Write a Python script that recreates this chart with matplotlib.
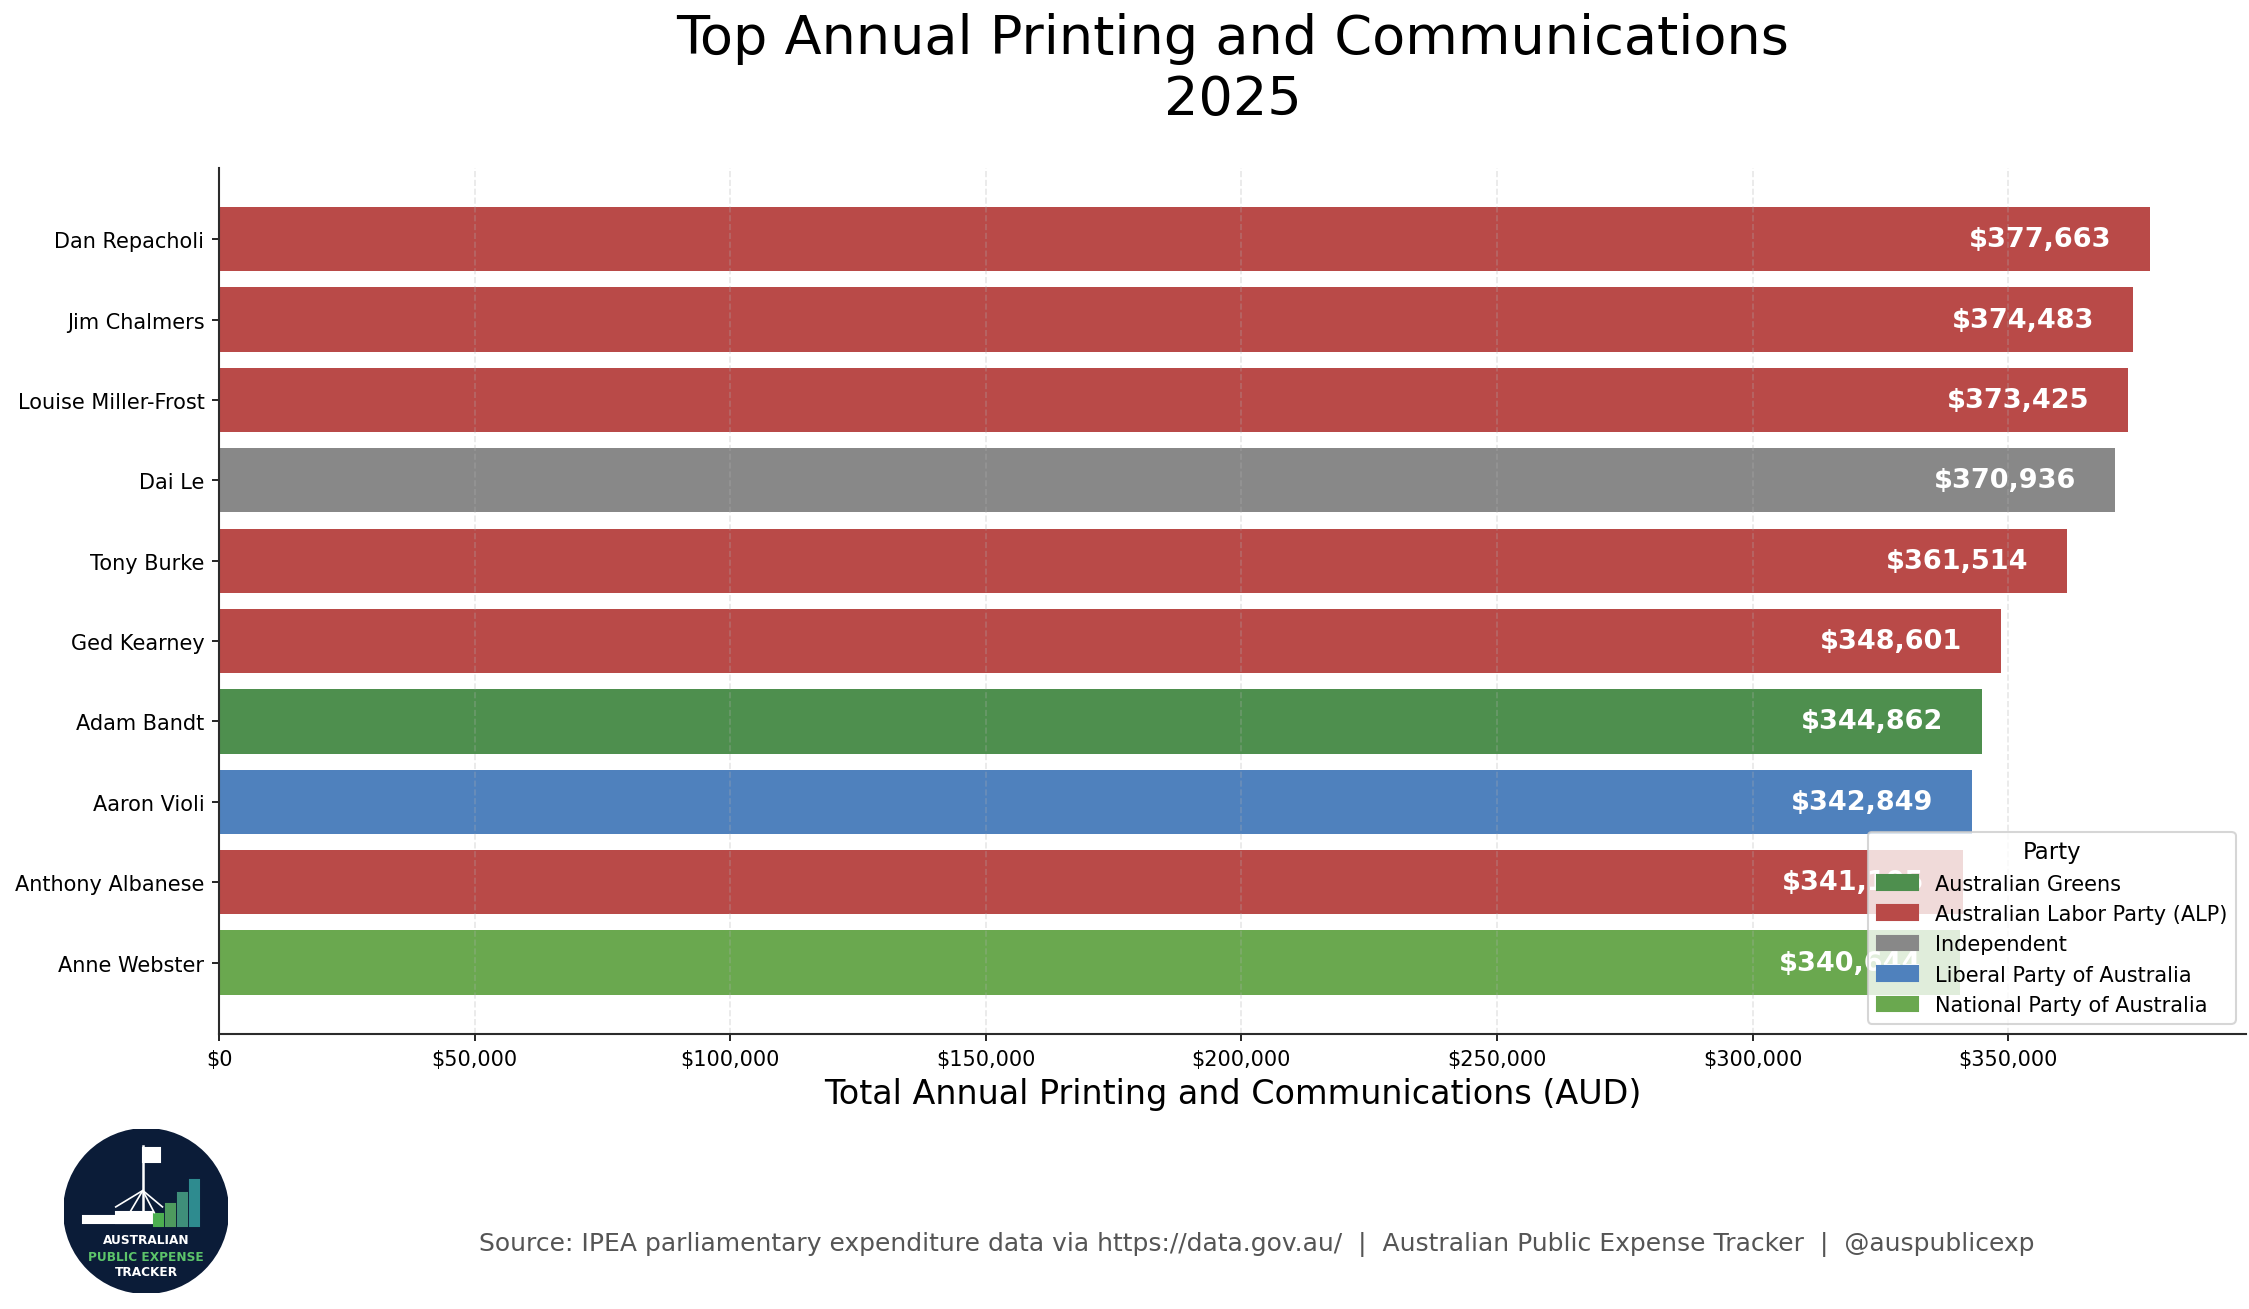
import matplotlib
matplotlib.use('Agg')
import matplotlib.pyplot as plt
from matplotlib.patches import Patch, Circle, Rectangle

# data
names = ["Dan Repacholi", "Jim Chalmers", "Louise Miller-Frost", "Dai Le", "Tony Burke",
         "Ged Kearney", "Adam Bandt", "Aaron Violi", "Anthony Albanese", "Anne Webster"]
values = [377663, 374483, 373425, 370936, 361514, 348601, 344862, 342849, 341105, 340644]
parties = ["Australian Labor Party (ALP)", "Australian Labor Party (ALP)", "Australian Labor Party (ALP)",
           "Independent", "Australian Labor Party (ALP)", "Australian Labor Party (ALP)",
           "Australian Greens", "Liberal Party of Australia", "Australian Labor Party (ALP)",
           "National Party of Australia"]
party_colors = {
    "Australian Greens": "#4e8f4e",
    "Australian Labor Party (ALP)": "#b94a48",
    "Independent": "#888888",
    "Liberal Party of Australia": "#4f81bd",
    "National Party of Australia": "#6aa84f",
}

fig = plt.figure(figsize=(2249 / 150, 1310 / 150), dpi=150)
ax = fig.add_axes([0.0974, 0.2099, 0.9013, 0.6613])

ypos = list(range(len(names)))
ax.barh(ypos, values, height=0.8, color=[party_colors[p] for p in parties])
ax.set_yticks(ypos)
ax.set_yticklabels(names, fontsize=10)
ax.invert_yaxis()

top = max(values)
for y, v in zip(ypos, values):
    ax.text(v - top * 0.02, y, f"${v:,.0f}", ha='right', va='center',
            color='white', fontsize=13, fontweight='bold')

ax.xaxis.set_major_formatter(matplotlib.ticker.FuncFormatter(lambda x, p: f"${x:,.0f}"))
ax.tick_params(axis='x', labelsize=10)
ax.grid(axis='x', linestyle='--', alpha=0.3)
ax.spines['top'].set_visible(False)
ax.spines['right'].set_visible(False)
for s in ['left', 'bottom']:
    ax.spines[s].set_color('#2b2b2b')
    ax.spines[s].set_linewidth(1.0)

ax.set_xlabel("Total Annual Printing and Communications (AUD)", fontsize=16)
ax.set_title("Top Annual Printing and Communications\n2025", fontsize=26, pad=26)

handles = [Patch(color=c, label=p) for p, c in party_colors.items()]
ax.legend(handles=handles, title="Party", loc='lower right', fontsize=10, title_fontsize=11)

fig.text(0.559, 0.050,
         "Source: IPEA parliamentary expenditure data via https://data.gov.au/  |  Australian Public Expense Tracker  |  @auspublicexp",
         ha='center', va='center', fontsize=12, color='#555555')

# logo
lax = fig.add_axes([0.0285, 0.0122, 0.0729, 0.1252])
lax.set_xlim(-1, 1)
lax.set_ylim(-1, 1)
lax.set_aspect('equal')
lax.axis('off')
lax.add_patch(Circle((0, 0), 1, color='#0b1c38'))
# parliament house
lax.add_patch(Rectangle((-0.77, -0.15), 0.85, 0.09, color='white'))
lax.add_patch(Rectangle((-0.37, -0.15), 0.45, 0.14, color='white'))
lax.plot([-0.04, -0.04], [-0.04, 0.79], color='white', lw=1.2)
lax.plot([-0.37, -0.04, 0.2], [0.05, 0.25, 0.05], color='white', lw=0.8)
lax.plot([-0.2, -0.04, 0.1], [-0.02, 0.25, -0.02], color='white', lw=0.8)
lax.add_patch(Rectangle((-0.04, 0.6), 0.21, 0.17, color='white'))
bar_h = [0.14, 0.27, 0.40, 0.56]
bar_c = ['#4caf50', '#4e9a5e', '#3f8f7a', '#2e8b8f']
for i, (h, c) in enumerate(zip(bar_h, bar_c)):
    lax.add_patch(Rectangle((0.10 + i * 0.145, -0.18), 0.11, h, color=c))
lax.text(0, -0.35, "AUSTRALIAN", ha='center', va='center', color='white', fontsize=5.8, fontweight='bold')
lax.text(0, -0.55, "PUBLIC EXPENSE", ha='center', va='center', color='#5cc46a', fontsize=5.8, fontweight='bold')
lax.text(0, -0.74, "TRACKER", ha='center', va='center', color='white', fontsize=5.8, fontweight='bold')

plt.savefig('out.png', dpi=150)
